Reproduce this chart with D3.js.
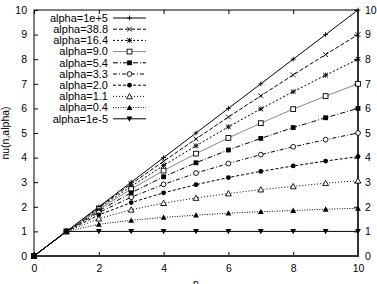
<!DOCTYPE html>
<html>
<head>
<meta charset="utf-8">
<script src="https://cdn.jsdelivr.net/npm/d3@7"></script>
<style>
  body { margin: 0; background: #fff; }
  text { font-family: "Liberation Sans", Arial, sans-serif; fill: #000; }
</style>
</head>
<body>
<div id="chart-area"></div>
<script>
// x values (n) and one array of nu(n,alpha) per alpha
const nValues = [0, 1, 2, 3, 4, 5, 6, 7, 8, 9, 10]
const nuAlpha1e5  = [0, 1, 2.00, 3.00, 4.00, 5.00, 6.00, 7.00, 8.00, 9.00, 10.00]
const nuAlpha38_8 = [0, 1, 1.97, 2.93, 3.85, 4.76, 5.65, 6.51, 7.36, 8.19, 9.00]
const nuAlpha16_4 = [0, 1, 1.94, 2.83, 3.68, 4.48, 5.25, 5.98, 6.68, 7.35, 8.00]
const nuAlpha9_0  = [0, 1, 1.90, 2.72, 3.47, 4.16, 4.80, 5.40, 5.97, 6.50, 7.00]
const nuAlpha5_4  = [0, 1, 1.84, 2.57, 3.22, 3.79, 4.31, 4.78, 5.22, 5.62, 6.00]
const nuAlpha3_3  = [0, 1, 1.77, 2.39, 2.91, 3.37, 3.76, 4.12, 4.44, 4.73, 5.00]
const nuAlpha2_0  = [0, 1, 1.67, 2.17, 2.57, 2.90, 3.19, 3.44, 3.66, 3.86, 4.04]
const nuAlpha1_1  = [0, 1, 1.52, 1.88, 2.15, 2.36, 2.54, 2.70, 2.83, 2.96, 3.06]
const nuAlpha0_4  = [0, 1, 1.29, 1.45, 1.57, 1.66, 1.74, 1.80, 1.85, 1.90, 1.94]
const nuAlpha1e_5 = [0, 1, 1, 1, 1, 1, 1, 1, 1, 1, 1]

const seriesLabels = ["alpha=1e+5", "alpha=38.8", "alpha=16.4", "alpha=9.0", "alpha=5.4",
  "alpha=3.3", "alpha=2.0", "alpha=1.1", "alpha=0.4", "alpha=1e-5"]
const xTicks = [0, 2, 4, 6, 8, 10]
const yTicks = [0, 1, 2, 3, 4, 5, 6, 7, 8, 9, 10]

const seriesValues = [nuAlpha1e5, nuAlpha38_8, nuAlpha16_4, nuAlpha9_0, nuAlpha5_4,
  nuAlpha3_3, nuAlpha2_0, nuAlpha1_1, nuAlpha0_4, nuAlpha1e_5]

// gnuplot-ish line/point styles
const styles = [
  {dash: null,        color: "#000", pt: "plus"},
  {dash: "4,2",       color: "#000", pt: "cross"},
  {dash: "2,2",       color: "#000", pt: "star"},
  {dash: null,        color: "#888", pt: "boxOpen"},
  {dash: "5,2,1,2",   color: "#000", pt: "boxFill"},
  {dash: "4,2,1,2",   color: "#000", pt: "circOpen"},
  {dash: "3,2",       color: "#000", pt: "circFill"},
  {dash: "1,2",       color: "#000", pt: "triOpen"},
  {dash: "1,1.5",     color: "#000", pt: "triFill"},
  {dash: null,        color: "#000", pt: "invTriFill"}
]

const W = 377, H = 284
const MARGIN = {LEFT: 34, RIGHT: 19, TOP: 10, BOTTOM: 28}

const svg = d3.select("#chart-area").append("svg")
  .attr("width", W)
  .attr("height", H)

const x = d3.scaleLinear().domain([0, 10]).range([MARGIN.LEFT, W - MARGIN.RIGHT])
const y = d3.scaleLinear().domain([0, 10]).range([H - MARGIN.BOTTOM, MARGIN.TOP])

// axes (ticks inward, mirrored)
const tl = 4
svg.append("g")
  .attr("transform", `translate(0,${y(0)})`)
  .call(d3.axisBottom(x).tickValues(xTicks).tickSize(-tl).tickPadding(tl + 5))
svg.append("g")
  .attr("transform", `translate(0,${y(10)})`)
  .call(d3.axisTop(x).tickValues(xTicks).tickSize(-tl).tickFormat(""))
svg.append("g")
  .attr("transform", `translate(${x(0)},0)`)
  .call(d3.axisLeft(y).tickValues(yTicks).tickSize(-tl).tickPadding(tl + 3))
svg.append("g")
  .attr("transform", `translate(${x(10)},0)`)
  .call(d3.axisRight(y).tickValues(yTicks).tickSize(-tl).tickPadding(tl + 3))

svg.selectAll(".domain").remove()
svg.selectAll(".tick line").attr("stroke", "#000")
svg.selectAll(".tick text").style("font-size", "10.5px").style("font-family", "Liberation Sans, Arial, sans-serif")

// border
svg.append("rect")
  .attr("x", x(0)).attr("y", y(10))
  .attr("width", x(10) - x(0)).attr("height", y(0) - y(10))
  .attr("fill", "none").attr("stroke", "#000").attr("stroke-width", 1)
svg.append("path")
  .attr("d", `M${x(0)},${y(0)}H${x(10)}V${y(10)}`)
  .attr("fill", "none").attr("stroke", "#333").attr("stroke-width", 2)

// axis titles (the n label is clipped by the bottom edge in the original)
svg.append("text")
  .attr("x", (x(0) + x(10)) / 2).attr("y", H + 3)
  .attr("text-anchor", "middle").style("font-size", "10.5px")
  .text("n")
svg.append("text")
  .attr("transform", `translate(9,${(y(0) + y(10)) / 2}) rotate(-90)`)
  .attr("text-anchor", "middle").style("font-size", "10.5px")
  .text("nu(n,alpha)")

function drawPoint(g, type, cx, cy) {
  const s = 2.4
  const p = g.append("g").attr("transform", `translate(${cx},${cy})`)
  switch (type) {
    case "plus":
      p.append("path").attr("d", `M${-s},0H${s}M0,${-s}V${s}`).attr("stroke", "#000").attr("stroke-width", 0.9)
      break
    case "cross":
      p.append("path").attr("d", `M${-s},${-s}L${s},${s}M${-s},${s}L${s},${-s}`).attr("stroke", "#000").attr("stroke-width", 0.9)
      break
    case "star":
      p.append("path").attr("d", `M${-s},0H${s}M0,${-s}V${s}M${-s},${-s}L${s},${s}M${-s},${s}L${s},${-s}`).attr("stroke", "#000").attr("stroke-width", 0.9)
      break
    case "boxOpen":
      p.append("rect").attr("x", -s).attr("y", -s).attr("width", 2 * s).attr("height", 2 * s).attr("fill", "#fff").attr("stroke", "#000").attr("stroke-width", 0.9)
      break
    case "boxFill":
      p.append("rect").attr("x", -s).attr("y", -s).attr("width", 2 * s).attr("height", 2 * s).attr("fill", "#000")
      break
    case "circOpen":
      p.append("circle").attr("r", s).attr("fill", "#fff").attr("stroke", "#000").attr("stroke-width", 0.9)
      break
    case "circFill":
      p.append("circle").attr("r", s).attr("fill", "#000")
      break
    case "triOpen":
      p.append("path").attr("d", `M0,${-s - 0.5}L${s + 0.5},${s}L${-s - 0.5},${s}Z`).attr("fill", "#fff").attr("stroke", "#000").attr("stroke-width", 0.9)
      break
    case "triFill":
      p.append("path").attr("d", `M0,${-s - 0.5}L${s + 0.5},${s}L${-s - 0.5},${s}Z`).attr("fill", "#000")
      break
    case "invTriFill":
      p.append("path").attr("d", `M0,${s + 0.5}L${s + 0.5},${-s}L${-s - 0.5},${-s}Z`).attr("fill", "#000")
      break
  }
}

const line = d3.line().x((d, i) => x(nValues[i])).y(d => y(d))

seriesValues.forEach((vals, k) => {
  const st = styles[k]
  const g = svg.append("g")
  g.append("path")
    .attr("d", line(vals))
    .attr("fill", "none")
    .attr("stroke", st.color)
    .attr("stroke-width", 1)
    .attr("stroke-dasharray", st.dash)
  vals.forEach((v, i) => drawPoint(g, st.pt, x(nValues[i]), y(v)))
})

// legend
const legTextX = 108, legX0 = 113, legX1 = 146, legY0 = 18, legDy = 11.2
seriesLabels.forEach((lab, k) => {
  const st = styles[k]
  const yy = legY0 + k * legDy
  svg.append("text")
    .attr("x", legTextX).attr("y", yy).attr("dy", "0.35em")
    .attr("text-anchor", "end").style("font-size", "11px")
    .text(lab)
  const g = svg.append("g")
  g.append("line")
    .attr("x1", legX0).attr("x2", legX1).attr("y1", yy).attr("y2", yy)
    .attr("stroke", st.color).attr("stroke-width", 1)
    .attr("stroke-dasharray", st.dash)
  drawPoint(g, st.pt, (legX0 + legX1) / 2, yy)
})
</script>
</body>
</html>
